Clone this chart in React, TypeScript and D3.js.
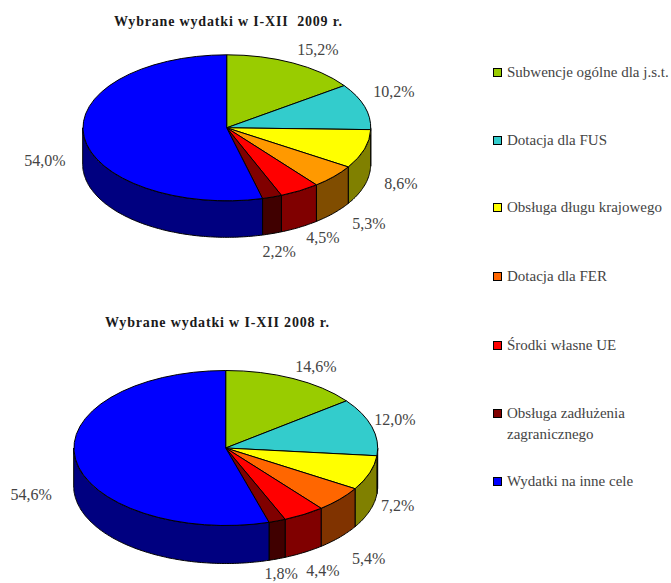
import React from "react";
import * as d3 from "d3";

const categories = ["Subwencje ogólne dla j.s.t.", "Dotacja dla FUS", "Obsługa długu krajowego", "Dotacja dla FER", "Środki własne UE", "Obsługa zadłużenia zagranicznego", "Wydatki na inne cele"];
const values2009 = [15.2, 10.2, 8.6, 5.3, 4.5, 2.2, 54.0];
const values2008 = [14.6, 12.0, 7.2, 5.4, 4.4, 1.8, 54.6];
const colors2009 = ["#99cc00", "#33cccc", "#ffff00", "#ff9900", "#ff0000", "#800000", "#0000ff"];
const colors2008 = ["#99cc00", "#33cccc", "#ffff00", "#ff6600", "#ff0000", "#800000", "#0000ff"];
const legendColors = colors2008;
const title2009 = "Wybrane wydatki w I-XII\u00a0\u00a02009 r.";
const title2008 = "Wybrane wydatki w I-XII 2008 r.";

const legendRows = [73, 141, 208, 277, 346, 414, 482];
const offsets2009 = [[25, -13.5], [29.5, -15], [36.5, 34.5], [35, 47], [23.4, 46.8], [7, 54.4], [-39, 23.6]];
const offsets2008 = [[23, -11.6], [23, -7], [28, 33], [29, 59], [19, 56], [4, 53], [-44, 35]];

const FONT = "'Liberation Serif', serif";

type PieProps = { values: number[]; colors: string[]; offsets: number[][]; cx: number; cy: number; rx: number; ry: number; depth: number; title: string; titleX: number; titleY: number; titleWidth: number };

const halfTone = (c: string) => {
  const k = d3.rgb(c);
  return d3.rgb(k.r / 2, k.g / 2, k.b / 2).toString();
};

function Pie3D({ values, colors, offsets, cx, cy, rx, ry, depth, title, titleX, titleY, titleWidth }: PieProps) {
  const arcs = d3.pie<number>().sort(null).startAngle(0).endAngle(2 * Math.PI)(values);
  const arc = d3.arc<d3.PieArcDatum<number>>().innerRadius(0).outerRadius(1);
  const unitDepth = depth / ry;
  const line = d3.line<number[]>();
  const transform = `translate(${cx},${cy}) scale(${rx},${ry})`;
  const wall = (a0: number, a1: number) => {
    const lo = Math.max(a0, Math.PI / 2);
    const hi = Math.min(a1, 1.5 * Math.PI);
    if (hi <= lo) return null;
    const n = Math.max(2, Math.ceil((hi - lo) * 60));
    const t = d3.range(n + 1).map((i) => lo + ((hi - lo) * i) / n);
    const top = t.map((a) => [Math.sin(a), -Math.cos(a)]);
    const bottom = t.slice().reverse().map((a) => [Math.sin(a), -Math.cos(a) + unitDepth]);
    return line([...top, ...bottom]) + "Z";
  };
  return (
    <g>
      <text x={titleX} y={titleY} textAnchor="middle" dominantBaseline="central" fontFamily={FONT} fontWeight="bold" fontSize={14} textLength={titleWidth} fill="#1a1a1a">{title}</text>
      {arcs.map((d, i) => {
        const p = wall(d.startAngle, d.endAngle);
        return p ? <path key={i} d={p} transform={transform} fill={halfTone(colors[i])} stroke="#000" strokeWidth={1} vectorEffect="non-scaling-stroke" strokeLinejoin="round" /> : null;
      })}
      {arcs.map((d, i) => (
        <path key={i} d={arc(d) as string} transform={transform} fill={colors[i]} stroke="#000" strokeWidth={1} vectorEffect="non-scaling-stroke" strokeLinejoin="round" />
      ))}
      {arcs.map((d, i) => {
        const mid = (d.startAngle + d.endAngle) / 2;
        return (
          <text key={i} x={cx + rx * Math.sin(mid) + offsets[i][0]} y={cy - ry * Math.cos(mid) + offsets[i][1]} textAnchor="middle" dominantBaseline="central" fontFamily={FONT} fontSize={16} fill="#444">
            {d3.format(".1f")(d.data).replace(".", ",")}%
          </text>
        );
      })}
    </g>
  );
}

export default function App() {
  return (
    <svg width={671} height={583} style={{ position: "absolute", left: 0, top: 0, background: "#fff" }}>
      <Pie3D values={values2009} colors={colors2009} offsets={offsets2009} cx={226.7} cy={127.8} rx={144} ry={73} depth={36.5} title={title2009} titleX={228} titleY={21} titleWidth={228} />
      <Pie3D values={values2008} colors={colors2008} offsets={offsets2008} cx={225.7} cy={448} rx={152} ry={77.5} depth={38} title={title2008} titleX={217} titleY={322} titleWidth={224} />
      {categories.map((c, i) => {
        const y = legendRows[i];
        const wrap = c === "Obsługa zadłużenia zagranicznego";
        return (
          <g key={c}>
            <rect x={493.5} y={y - 4.5} width={8} height={8} fill={legendColors[i]} stroke="#000" strokeWidth={1} />
            {wrap ? (
              <text fontFamily={FONT} fontSize={15} fill="#444">
                <tspan x={507} y={y + 4}>Obsługa zadłużenia</tspan>
                <tspan x={507} y={y + 25}>zagranicznego</tspan>
              </text>
            ) : (
              <text x={507} y={y + 4} fontFamily={FONT} fontSize={15} fill="#444">{c}</text>
            )}
          </g>
        );
      })}
    </svg>
  );
}
